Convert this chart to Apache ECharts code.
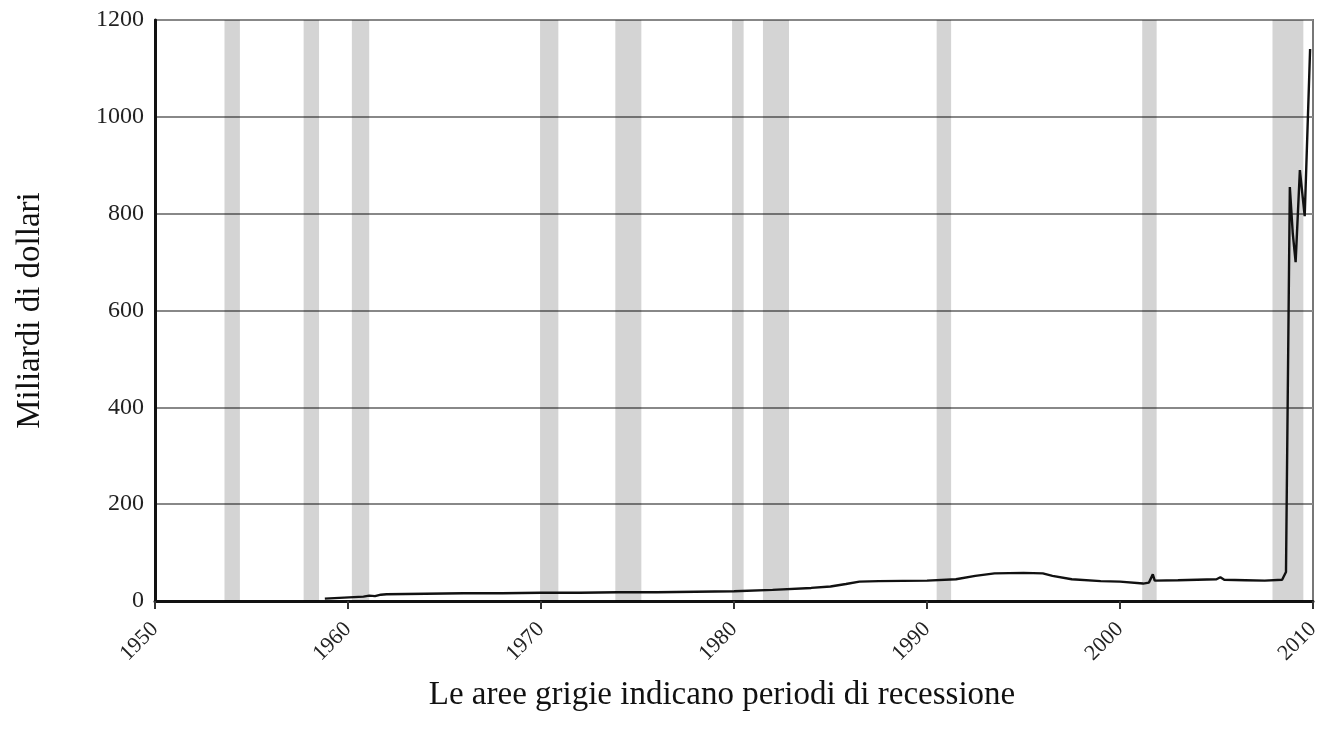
<!DOCTYPE html>
<html>
<head>
<meta charset="utf-8">
<script src="https://cdn.jsdelivr.net/npm/echarts@6/dist/echarts.min.js"></script>
<style>
  html,body{margin:0;padding:0;background:#fff;}
  #chart{width:1331px;height:729px;}
</style>
</head>
<body>
<div id="chart"></div>
<script>
// anni (frazionari) e valori della serie, in miliardi di dollari
const years = [1958.8, 1959.3, 1959.8, 1960.3, 1960.8, 1961.1, 1961.4, 1961.7, 1962.0, 1964, 1966, 1968, 1970, 1972, 1974, 1976, 1978, 1980, 1982, 1984, 1985, 1985.8, 1986.5, 1987.5, 1990, 1991.5, 1992.5, 1993.5, 1995, 1996, 1996.5, 1997.5, 1999, 2000, 2001.2, 2001.5, 2001.7, 2001.8, 2003, 2004, 2005, 2005.2, 2005.4, 2006.5, 2007.5, 2008.4, 2008.6, 2008.8, 2008.95, 2009.1, 2009.32, 2009.57, 2009.85];
const values = [5, 6, 7, 8, 9, 11, 10, 13, 14, 15, 16, 16, 17, 17, 18, 18, 19, 20, 23, 27, 30, 35, 40, 41, 42, 45, 52, 57, 58, 57, 52, 45, 41, 40, 36, 38, 55, 42, 43, 44, 45, 49, 44, 43, 42, 44, 60, 855, 760, 700, 890, 795, 1140];

// periodi di recessione (aree grigie)
const recessionStart = [1953.6, 1957.7, 1960.2, 1969.95, 1973.85, 1979.9, 1981.5, 1990.5, 2001.15, 2007.9];
const recessionEnd = [1954.4, 1958.5, 1961.1, 1970.9, 1975.2, 1980.5, 1982.85, 1991.25, 2001.9, 2009.5];

const yTicks = [0, 200, 400, 600, 800, 1000, 1200];
const xTicks = [1950, 1960, 1970, 1980, 1990, 2000, 2010];

const serif = '"Liberation Serif", "DejaVu Serif", serif';

const chart = echarts.init(document.getElementById('chart'));

chart.setOption({
  backgroundColor: '#fff',
  animation: false,
  grid: {
    left: 155,
    right: 18,
    top: 20,
    bottom: 128,
    show: true,
    borderColor: '#777',
    borderWidth: 2
  },
  xAxis: {
    type: 'value',
    min: xTicks[0],
    max: xTicks[xTicks.length - 1],
    interval: 10,
    name: 'Le aree grigie indicano periodi di recessione',
    nameLocation: 'middle',
    nameGap: 78,
    nameTextStyle: { fontFamily: serif, fontSize: 33, color: '#111', padding: [0, 24, 0, 0] },
    axisLine: { show: true, lineStyle: { color: '#111', width: 3 } },
    axisTick: { show: true, length: 8, lineStyle: { color: '#333', width: 2 } },
    axisLabel: {
      rotate: 45,
      margin: 25,
      fontFamily: serif,
      fontSize: 22,
      color: '#222',
      formatter: v => String(v)
    },
    splitLine: { show: false }
  },
  yAxis: {
    type: 'value',
    min: 0,
    max: yTicks[yTicks.length - 1],
    interval: 200,
    name: 'Miliardi di dollari',
    nameLocation: 'middle',
    nameGap: 108,
    nameRotate: 90,
    nameTextStyle: { fontFamily: serif, fontSize: 33, color: '#111' },
    axisLine: { show: true, lineStyle: { color: '#111', width: 3 } },
    axisTick: { show: false },
    axisLabel: { margin: 11, fontFamily: serif, fontSize: 24, color: '#222', formatter: v => String(v) },
    splitLine: { show: true, lineStyle: { color: '#888', width: 2 } }
  },
  series: [
    {
      // serie vuota solo per le aree di recessione
      type: 'line',
      data: [],
      z: 1,
      silent: true,
      markArea: {
        silent: true,
        itemStyle: { color: 'rgba(0,0,0,0.17)' },
        data: recessionStart.map((s, i) => [{ xAxis: s }, { xAxis: recessionEnd[i] }])
      }
    },
    {
      type: 'line',
      z: 3,
      data: years.map((y, i) => [y, values[i]]),
      showSymbol: false,
      lineStyle: { color: '#111', width: 2.4 }
    }
  ]
});
</script>
</body>
</html>
